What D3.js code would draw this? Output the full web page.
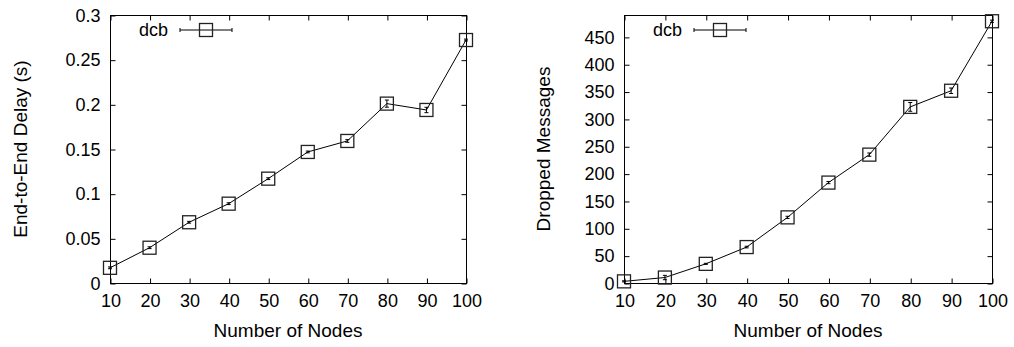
<!DOCTYPE html>
<html>
<head>
<meta charset="utf-8">
<script src="https://cdn.jsdelivr.net/npm/d3@7"></script>
<style>
  body { margin: 0; background: #fff; }
  svg { font-family: "Liberation Sans", Arial, sans-serif; }
</style>
</head>
<body>
<svg id="chart" width="1014" height="347"></svg>
<script>
// data
const nodes = [10, 20, 30, 40, 50, 60, 70, 80, 90, 100];

const delay = [0.017, 0.0395, 0.068, 0.0888, 0.1168, 0.1467, 0.159, 0.2008, 0.1937, 0.272];
const delayErr = [0.001, 0.001, 0.001, 0.001, 0.001, 0.001, 0.0015, 0.004, 0.003, 0.001];
const delayTicks = [0, 0.05, 0.1, 0.15, 0.2, 0.25, 0.3];

const dropped = [3, 10, 35, 65.7, 120, 183.6, 234.7, 322, 351.5, 478.6];
const droppedErr = [1, 4, 1, 1.5, 2, 2, 3, 8, 5, 2];
const droppedTicks = [0, 50, 100, 150, 200, 250, 300, 350, 400, 450];

const seriesName = "dcb";

function panel(opt) {
  const svg = d3.select("#chart");
  const g = svg.append("g");

  const x = d3.scaleLinear().domain([10, 100]).range([opt.left, opt.right]);
  const y = d3.scaleLinear().domain(opt.yDomain).range([opt.bottom, opt.top]);
  const tick = 5;

  // frame
  g.append("rect")
    .attr("x", opt.left + 0.5).attr("y", opt.top + 0.5)
    .attr("width", opt.right - opt.left).attr("height", opt.bottom - opt.top)
    .attr("fill", "none").attr("stroke", "#000");

  // axes, ticks pointing inward on all four sides
  const xb = g.append("g").attr("transform", `translate(0.5,${opt.bottom + 0.5})`)
    .call(d3.axisBottom(x).tickValues(nodes).tickSizeInner(-tick).tickSizeOuter(0).tickPadding(11));
  const xt = g.append("g").attr("transform", `translate(0.5,${opt.top + 0.5})`)
    .call(d3.axisTop(x).tickValues(nodes).tickSizeInner(-tick).tickSizeOuter(0).tickFormat(""));
  const yl = g.append("g").attr("transform", `translate(${opt.left + 0.5},0.5)`)
    .call(d3.axisLeft(y).tickValues(opt.ticks).tickSizeInner(-tick).tickSizeOuter(0).tickPadding(10)
      .tickFormat(d3.format("")));
  const yr = g.append("g").attr("transform", `translate(${opt.right + 0.5},0.5)`)
    .call(d3.axisRight(y).tickValues(opt.ticks).tickSizeInner(-tick).tickSizeOuter(0).tickFormat(""));

  [xb, xt, yl, yr].forEach(a => {
    a.select(".domain").remove();
    a.selectAll("text").attr("font-size", 18).attr("font-family", "Liberation Sans, Arial, sans-serif").attr("fill", "#000");
  });

  // axis titles
  g.append("text")
    .attr("x", (opt.left + opt.right) / 2).attr("y", 337)
    .attr("text-anchor", "middle").attr("font-size", 19)
    .text("Number of Nodes");
  g.append("text")
    .attr("transform", `translate(${opt.yTitleX},${(opt.top + opt.bottom) / 2}) rotate(-90)`)
    .attr("text-anchor", "middle").attr("font-size", 19)
    .text(opt.yTitle);

  const pts = nodes.map((n, i) => ({ n, v: opt.values[i], e: opt.errors[i] }));

  // line
  g.append("path")
    .datum(pts)
    .attr("fill", "none").attr("stroke", "#000").attr("stroke-width", 1)
    .attr("d", d3.line().x(d => x(d.n)).y(d => y(d.v)));

  // error bars
  const eb = g.append("g").attr("stroke", "#000").attr("stroke-width", 1);
  pts.forEach(d => {
    const cx = x(d.n), y0 = y(d.v - d.e), y1 = y(d.v + d.e);
    eb.append("line").attr("x1", cx).attr("x2", cx).attr("y1", y0).attr("y2", y1);
    eb.append("line").attr("x1", cx - 2).attr("x2", cx + 2).attr("y1", y0).attr("y2", y0);
    eb.append("line").attr("x1", cx - 2).attr("x2", cx + 2).attr("y1", y1).attr("y2", y1);
  });

  // square markers
  const s = 13;
  g.append("g").selectAll("rect")
    .data(pts).join("rect")
    .attr("x", d => x(d.n) - s / 2).attr("y", d => y(d.v) - s / 2)
    .attr("width", s).attr("height", s)
    .attr("fill", "none").attr("stroke", "#222").attr("stroke-width", 1.3);

  // legend
  const ly = 30;
  g.append("text")
    .attr("x", opt.legendX).attr("y", ly + 6)
    .attr("text-anchor", "end").attr("font-size", 18)
    .text(seriesName);
  const lx0 = opt.legendX + 12, lx1 = lx0 + 52, lc = (lx0 + lx1) / 2;
  g.append("line").attr("x1", lx0).attr("x2", lx1).attr("y1", ly).attr("y2", ly).attr("stroke", "#000");
  g.append("line").attr("x1", lx0).attr("x2", lx0).attr("y1", ly - 2).attr("y2", ly + 2).attr("stroke", "#000");
  g.append("line").attr("x1", lx1).attr("x2", lx1).attr("y1", ly - 2).attr("y2", ly + 2).attr("stroke", "#000");
  g.append("rect")
    .attr("x", lc - s / 2).attr("y", ly - s / 2).attr("width", s).attr("height", s)
    .attr("fill", "none").attr("stroke", "#222").attr("stroke-width", 1.3);
}

panel({
  left: 110, right: 466, top: 15, bottom: 283,
  yDomain: [0, 0.3], ticks: delayTicks,
  values: delay, errors: delayErr,
  yTitle: "End-to-End Delay (s)", yTitleX: 27,
  legendX: 168
});

panel({
  left: 624, right: 992, top: 15, bottom: 283,
  yDomain: [0, 490], ticks: droppedTicks,
  values: dropped, errors: droppedErr,
  yTitle: "Dropped Messages", yTitleX: 550,
  legendX: 682
});
</script>
</body>
</html>
